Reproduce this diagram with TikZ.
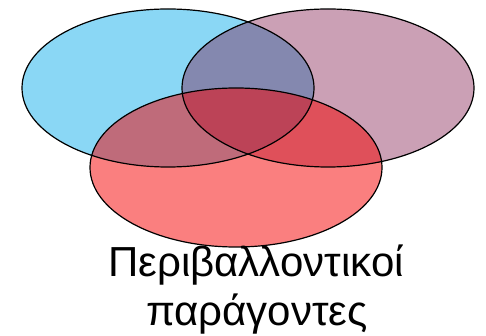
\documentclass[tikz,border=0pt]{standalone}
\usepackage{fontspec}
\setmainfont{Liberation Sans}
\definecolor{cblue}{RGB}{138,215,245}
\definecolor{cmauve}{RGB}{124,18,71}
\definecolor{cred}{RGB}{245,0,0}
\tikzset{
  outline/.style={draw=black, line width=1.2pt},
  lbl/.style={font=\fontsize{42}{49}\selectfont, inner sep=0pt, anchor=base}
}
\begin{document}
\begin{tikzpicture}[x=1pt,y=-1pt]
\useasboundingbox (0,0) rectangle (486,336);
% fills
\fill[cblue] (168,88) ellipse [x radius=146pt, y radius=79pt];
\fill[cmauve, fill opacity=0.4] (328,88) ellipse [x radius=146pt, y radius=79pt];
\fill[cred, fill opacity=0.5] (236,167.5) ellipse [x radius=146pt, y radius=79.5pt];
% outlines
\draw[outline] (168,88) ellipse [x radius=146pt, y radius=79pt];
\draw[outline] (328,88) ellipse [x radius=146pt, y radius=79pt];
\draw[outline] (236,167.5) ellipse [x radius=146pt, y radius=79.5pt];
% label
\node[lbl] (l1) at (256,276) {Περιβαλλοντικοί};
\node[lbl] (l2) at (257,325) {παράγοντες};
\end{tikzpicture}
\end{document}
